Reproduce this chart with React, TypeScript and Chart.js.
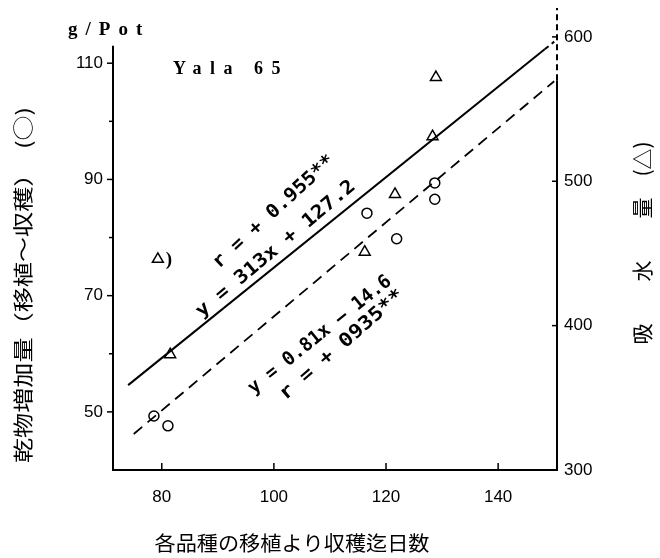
import React, { useEffect, useRef } from 'react';
import { Chart, registerables } from 'chart.js';

Chart.register(...registerables);

// ---- axes ----
const X_MIN = 71.3;
const X_MAX = 150.5;
const X_TICKS = [80, 100, 120, 140];
const LEFT_MIN = 40;
const LEFT_MAX = 119.5;
const LEFT_AXIS_END = 113;
const LEFT_TICKS = [50, 60, 70, 80, 90, 100, 110];
const LEFT_LABELED = [50, 70, 90, 110];
const RIGHT_MIN = 300;
const RIGHT_MAX = 620;
const RIGHT_TICKS = [300, 400, 500, 600];
const RIGHT_SOLID_END = 570;

// ---- dry matter increase, g/pot (left axis, circles) ----
const circleDays = [78.6, 81.1, 116.6, 121.9, 128.7, 128.7];
const circleDryMatter = [49.3, 47.6, 84.2, 79.8, 89.4, 86.6];

// ---- water uptake (right axis, triangles) ----
const triangleDays = [81.5, 79.3, 116.2, 121.6, 128.3, 128.9];
const triangleWater = [380, 446, 451, 491, 531, 572];

// ---- regression lines ----
const waterLineDays = [74, 148.3, 150];
const waterLineValues = [358.8, 591.4, 596.7];
const dryLineDays = [75, 150];
const dryLineValues = [46.2, 106.9];

// ---- texts ----
const UNIT_LABEL = 'g/Pot';
const VARIETY_LABEL = 'Yala 65';
const WATER_R = 'r = + 0.955**';
const WATER_EQ = 'y = 313x + 127.2';
const DRY_EQ = 'y = 0.81x — 14.6';
const DRY_R = 'r = + 0935**';
const LEFT_TITLE = '乾物増加量（移植～収穫）　(○)';
const RIGHT_TITLE = '吸　　水　　量　(△)';
const BOTTOM_TITLE = '各品種の移植より収穫迄日数';

const TICK_FONT = "'Liberation Sans', Arial, sans-serif";
const CJK_FONT = "'Noto Sans CJK JP', sans-serif";
const MONO_FONT = "'DejaVu Sans Mono', monospace";
const SERIF_FONT = "'Liberation Serif', serif";

function pts(xs: number[], ys: number[]) {
  return xs.map((x, i) => ({ x, y: ys[i] }));
}

function drawText(
  ctx: CanvasRenderingContext2D,
  text: string,
  x: number,
  y: number,
  opts: { angle?: number; font: string; width?: number; spacing?: number; align?: CanvasTextAlign; baseline?: CanvasTextBaseline }
) {
  ctx.save();
  ctx.translate(x, y);
  ctx.rotate(((opts.angle || 0) * Math.PI) / 180);
  ctx.font = opts.font;
  ctx.fillStyle = '#000';
  const anyCtx = ctx as any;
  if (opts.spacing && 'letterSpacing' in anyCtx) anyCtx.letterSpacing = opts.spacing + 'px';
  ctx.textAlign = opts.align || 'center';
  ctx.textBaseline = opts.baseline || 'middle';
  if (opts.width) {
    const w = ctx.measureText(text).width;
    ctx.scale(opts.width / w, 1);
  }
  ctx.fillText(text, 0, 0);
  ctx.restore();
}

function seg(ctx: CanvasRenderingContext2D, x1: number, y1: number, x2: number, y2: number) {
  ctx.beginPath();
  ctx.moveTo(x1, y1);
  ctx.lineTo(x2, y2);
  ctx.stroke();
}

const decorPlugin = {
  id: 'decor',
  afterDatasetsDraw(chart: any) {
    const { ctx, chartArea, scales } = chart;
    const xs = scales.x;
    const yl = scales.y;
    const yr = scales.y2;
    const L = chartArea.left;
    const R = chartArea.right;
    const B = chartArea.bottom;
    const T = chartArea.top;
    ctx.save();
    ctx.strokeStyle = '#000';
    ctx.lineWidth = 2;
    // axes
    seg(ctx, L - 1, B, R, B);
    seg(ctx, L, B + 1, L, yl.getPixelForValue(LEFT_AXIS_END));
    const rs = yr.getPixelForValue(RIGHT_SOLID_END);
    seg(ctx, R, B + 1, R, rs);
    ctx.setLineDash([6, 4]);
    seg(ctx, R, rs, R, T);
    ctx.setLineDash([]);
    // ticks
    ctx.lineWidth = 1.5;
    X_TICKS.forEach((v) => {
      const px = xs.getPixelForValue(v);
      seg(ctx, px, B, px, B - 7);
    });
    LEFT_TICKS.forEach((v) => {
      const py = yl.getPixelForValue(v);
      const len = LEFT_LABELED.includes(v) ? 6 : 4;
      seg(ctx, L, py, L - len, py);
    });
    RIGHT_TICKS.forEach((v) => {
      if (v === RIGHT_MIN) return;
      const py = yr.getPixelForValue(v);
      seg(ctx, R, py, R - 5, py);
    });
    ctx.restore();

    // ")" beside the isolated triangle
    const triMeta = chart.getDatasetMeta(1);
    const p = triMeta.data[1];
    if (p) drawText(ctx, ')', p.x + 11, p.y + 1, { font: `bold 19px ${SERIF_FONT}` });

    // header texts
    drawText(ctx, UNIT_LABEL, 68, 35, { font: `bold 19px ${SERIF_FONT}`, spacing: 8, align: 'left', baseline: 'alphabetic' });
    drawText(ctx, VARIETY_LABEL, 173, 74, { font: `bold 18px ${SERIF_FONT}`, spacing: 8.5, align: 'left', baseline: 'alphabetic' });

    // regression annotations
    const eqFont = `bold 19px ${MONO_FONT}`;
    drawText(ctx, WATER_R, 274, 212, { angle: -42.5, font: eqFont, width: 158 });
    drawText(ctx, WATER_EQ, 276, 249, { angle: -40, font: eqFont, width: 202 });
    drawText(ctx, DRY_EQ, 320, 335, { angle: -38.7, font: eqFont, width: 178 });
    drawText(ctx, DRY_R, 342, 345, { angle: -41, font: eqFont, width: 158 });

    // axis titles
    drawText(ctx, LEFT_TITLE, 23, 285, { angle: -90, font: `20px ${CJK_FONT}`, width: 356 });
    drawText(ctx, RIGHT_TITLE, 642, 243, { angle: -90, font: `21px ${CJK_FONT}` });
    drawText(ctx, BOTTOM_TITLE, 292, 543, { font: `20px ${CJK_FONT}`, width: 275 });
  },
};

export default function App() {
  const ref = useRef<HTMLCanvasElement | null>(null);

  useEffect(() => {
    if (!ref.current) return;
    const noPad = (s: any) => {
      s.paddingTop = 0;
      s.paddingBottom = 0;
      s.paddingLeft = 0;
      s.paddingRight = 0;
    };
    const chart = new Chart(ref.current, {
      type: 'scatter',
      data: {
        datasets: [
          {
            label: 'dry matter',
            data: pts(circleDays, circleDryMatter),
            yAxisID: 'y',
            pointStyle: 'circle',
            pointRadius: 5,
            borderWidth: 1.5,
            borderColor: '#000',
            backgroundColor: 'rgba(0,0,0,0)',
          },
          {
            label: 'water uptake',
            data: pts(triangleDays, triangleWater),
            yAxisID: 'y2',
            pointStyle: 'triangle',
            pointRadius: 6.3,
            borderWidth: 1.5,
            borderColor: '#000',
            backgroundColor: 'rgba(0,0,0,0)',
          },
          {
            label: 'water regression',
            data: pts(waterLineDays, waterLineValues),
            yAxisID: 'y2',
            showLine: true,
            pointRadius: 0,
            borderWidth: 2,
            borderColor: '#000',
            backgroundColor: '#000',
            segment: {
              borderDash: (c: any) => (c.p0DataIndex === 1 ? [5, 4] : undefined),
            },
          } as any,
          {
            label: 'dry regression',
            data: pts(dryLineDays, dryLineValues),
            yAxisID: 'y',
            showLine: true,
            pointRadius: 0,
            borderWidth: 1.8,
            borderDash: [11, 7],
            borderColor: '#000',
            backgroundColor: '#000',
          },
        ],
      },
      options: {
        responsive: false,
        animation: false,
        devicePixelRatio: 1,
        layout: { padding: { top: 8, left: 0, right: 0, bottom: 0 } },
        plugins: { legend: { display: false }, tooltip: { enabled: false } },
        scales: {
          x: {
            type: 'linear',
            min: X_MIN,
            max: X_MAX,
            grid: { display: false, drawTicks: false },
            border: { display: false },
            ticks: { color: '#000', font: { family: TICK_FONT, size: 17 }, padding: 17 },
            afterBuildTicks: (s: any) => {
              s.ticks = X_TICKS.map((v) => ({ value: v }));
            },
            afterFit: (s: any) => {
              s.height = 88;
              noPad(s);
            },
          },
          y: {
            type: 'linear',
            position: 'left',
            min: LEFT_MIN,
            max: LEFT_MAX,
            grid: { display: false, drawTicks: false },
            border: { display: false },
            ticks: {
              color: '#000',
              font: { family: TICK_FONT, size: 17 },
              padding: 10,
              callback: (v: any) => (LEFT_LABELED.includes(Number(v)) ? String(v) : ''),
            },
            afterBuildTicks: (s: any) => {
              s.ticks = LEFT_TICKS.map((v) => ({ value: v }));
            },
            afterFit: (s: any) => {
              s.width = 113;
              noPad(s);
            },
          },
          y2: {
            type: 'linear',
            position: 'right',
            min: RIGHT_MIN,
            max: RIGHT_MAX,
            grid: { display: false, drawTicks: false },
            border: { display: false },
            ticks: { color: '#000', font: { family: TICK_FONT, size: 17 }, padding: 7 },
            afterBuildTicks: (s: any) => {
              s.ticks = RIGHT_TICKS.map((v) => ({ value: v }));
            },
            afterFit: (s: any) => {
              s.width = 103;
              noPad(s);
            },
          },
        },
      } as any,
      plugins: [decorPlugin as any],
    });
    return () => chart.destroy();
  }, []);

  return (
    <div style={{ position: 'absolute', left: 0, top: 0, width: 660, height: 558, background: '#fff' }}>
      <canvas ref={ref} width={660} height={558} style={{ display: 'block', width: 660, height: 558 }} />
    </div>
  );
}
